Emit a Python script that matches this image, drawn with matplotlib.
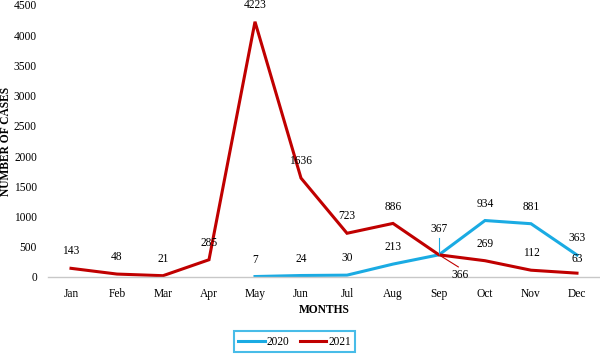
import matplotlib.pyplot as plt
import numpy as np

months = ['Jan', 'Feb', 'Mar', 'Apr', 'May', 'Jun', 'Jul', 'Aug', 'Sep', 'Oct', 'Nov', 'Dec']
cases_2020 = [None, None, None, None, 7, 24, 30, 213, 367, 934, 881, 363]
cases_2021 = [143, 48, 21, 285, 4223, 1636, 723, 886, 366, 269, 112, 63]

plt.rcParams['font.family'] = 'Liberation Serif'
fs = 8.3

fig = plt.figure(figsize=(6, 3.56), dpi=100)
ax = fig.add_axes([0.08, 0.222, 0.92, 0.764])

x = np.arange(len(months))
y20 = np.array([np.nan if v is None else v for v in cases_2020], dtype=float)
y21 = np.array(cases_2021, dtype=float)

ax.plot(x, y20, color='#1AABE3', lw=2.2, label='2020', solid_joinstyle='miter')
ax.plot(x, y21, color='#C00000', lw=2.2, label='2021', solid_joinstyle='miter')

# data labels
for i, v in enumerate(cases_2020):
    if v is None:
        continue
    if months[i] == 'Sep':
        ax.plot([i, i], [v, v + 280], color='#1AABE3', lw=0.8)
        ax.text(i, v + 330, str(v), ha='center', va='bottom', fontsize=fs)
    else:
        ax.text(i, v + 180, str(v), ha='center', va='bottom', fontsize=fs)
for i, v in enumerate(cases_2021):
    if months[i] == 'Sep':
        ax.plot([i, i + 0.42], [v, v - 200], color='#C00000', lw=0.8)
        ax.text(i + 0.45, v - 240, str(v), ha='center', va='top', fontsize=fs)
    elif months[i] == 'Dec':
        ax.text(i, v + 130, str(v), ha='center', va='bottom', fontsize=fs)
    else:
        ax.text(i, v + 180, str(v), ha='center', va='bottom', fontsize=fs)

ax.set_xlim(-0.5, 11.5)
ax.set_ylim(0, 4500)
ax.set_yticks(np.arange(0, 4501, 500))
ax.set_xticks(x)
ax.set_xticklabels(months)
ax.tick_params(axis='both', length=0, labelsize=fs, pad=8)
for s in ['top', 'right', 'left']:
    ax.spines[s].set_visible(False)
ax.spines['bottom'].set_color('#C8C8C8')
ax.spines['bottom'].set_linewidth(1)

ax.set_xlabel('MONTHS', fontsize=fs, fontweight='bold', labelpad=3)
ax.set_ylabel('NUMBER OF CASES', fontsize=fs, fontweight='bold')
ax.yaxis.set_label_coords(-0.066, 0.5)

leg = fig.legend(loc='center', bbox_to_anchor=(0.491, 0.04), ncol=2, fontsize=fs,
                 frameon=True, fancybox=False, handlelength=2.3, columnspacing=0.9,
                 borderpad=0.4, handletextpad=0.15)
leg.get_frame().set_edgecolor('#1AABE3')
leg.get_frame().set_linewidth(1.5)

fig.savefig('out.png', dpi=100)
